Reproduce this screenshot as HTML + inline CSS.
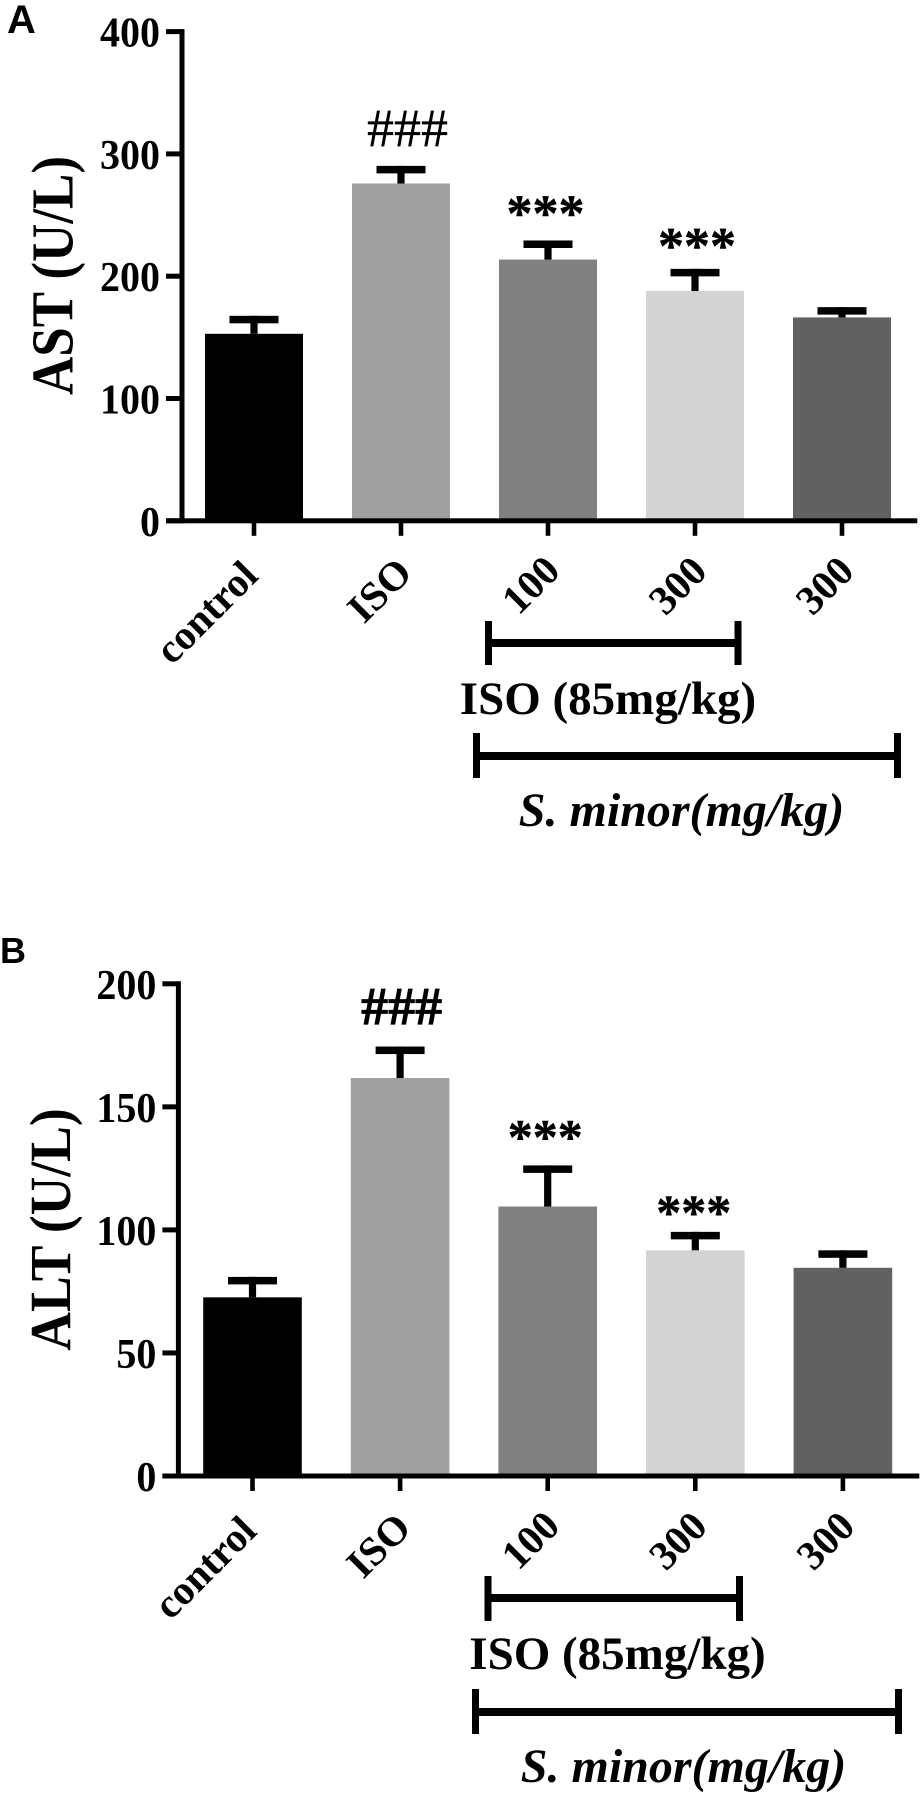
<!DOCTYPE html>
<html lang="en">
<head>
<meta charset="utf-8">
<title>AST and ALT bar charts</title>
<style>
html,body{margin:0;padding:0;background:#fff;width:922px;height:1796px;overflow:hidden}
svg{display:block;font-family:"Liberation Serif",serif}
.tick{font-size:40px;font-weight:bold;text-anchor:end}
.cat{font-size:41px;font-weight:bold;text-anchor:end}
.title{font-size:53px;font-weight:bold;text-anchor:middle}
.group{font-size:47px;font-weight:bold;text-anchor:middle}
.ital{font-size:48px;font-style:italic}
.panel{font-family:"Liberation Sans",sans-serif;font-weight:bold}
</style>
</head>
<body>
<svg id="figure" xmlns="http://www.w3.org/2000/svg" width="922" height="1796" viewBox="0 0 922 1796">
  <text class="panel" x="7" y="33" font-size="40">A</text>
  <text class="panel" x="0" y="963" font-size="36">B</text>

  <g id="panel-a"></g>
  <text class="title" transform="translate(72.500 275.500) rotate(-90) scale(1 1.110)">AST (U/L)</text>
  <g>
    <rect x="485" y="639" width="256.500" height="8" fill="#000"/>
    <rect x="485" y="621" width="7" height="44" fill="#000"/>
    <rect x="734.500" y="621" width="7" height="44" fill="#000"/>
  </g>
  <text class="group" x="608" y="714">ISO (85mg/kg)</text>
  <g>
    <rect x="473" y="752" width="428" height="8" fill="#000"/>
    <rect x="473" y="733" width="7" height="45" fill="#000"/>
    <rect x="894" y="733" width="7" height="45" fill="#000"/>
  </g>
  <text class="group ital" x="681.500" y="826">S. minor(mg/kg)</text>

  <g id="panel-b"></g>
  <text class="title" transform="translate(70 1229.500) rotate(-90) scale(1.010 1.100)">ALT (U/L)</text>
  <g>
    <rect x="484.500" y="1594" width="258.500" height="8" fill="#000"/>
    <rect x="484.500" y="1576" width="7" height="45" fill="#000"/>
    <rect x="736" y="1576" width="7" height="45" fill="#000"/>
  </g>
  <text class="group" x="617.500" y="1669">ISO (85mg/kg)</text>
  <g>
    <rect x="472" y="1708" width="430" height="8" fill="#000"/>
    <rect x="472" y="1689" width="7" height="45" fill="#000"/>
    <rect x="895" y="1689" width="7" height="45" fill="#000"/>
  </g>
  <text class="group ital" x="683.500" y="1782">S. minor(mg/kg)</text>
</svg>
<script>
// ---- chart data ----
var categories = ['control', 'ISO', '100', '300', '300'];
var barColors = ['#000000', '#a0a0a2', '#808080', '#d3d3d3', '#616161'];
var astValues = [152.9, 275.8, 213.6, 187.9, 166.3];
var astErrorTops = [167.6, 290.2, 229.2, 206, 174.7];
var astTicks = [0, 100, 200, 300, 400];
var astMarks = ['', '###', '***', '***', ''];
var altValues = [72.6, 161.7, 109.5, 91.7, 84.6];
var altErrorTops = [80.9, 174.5, 126.2, 99.2, 91.7];
var altTicks = [0, 50, 100, 150, 200];
var altMarks = ['', '###', '***', '***', ''];

var NS = 'http://www.w3.org/2000/svg';

function make(tag, attrs, parent, text) {
  var el = document.createElementNS(NS, tag);
  for (var k in attrs) el.setAttribute(k, attrs[k]);
  if (text !== undefined) el.textContent = text;
  parent.appendChild(el);
  return el;
}

function drawChart(root, o) {
  function yScale(v) { return o.y0 - (v / o.yMax) * (o.y0 - o.yTop); }
  function xScale(i) { return o.x0 + i * o.step; }

  o.values.forEach(function (v, i) {
    var cx = xScale(i);
    var bar = make('rect', { x: cx - o.barW / 2, y: yScale(v), width: o.barW, height: o.y0 - yScale(v), fill: barColors[i] }, root);
    
    

    var capY = yScale(o.errorTops[i]);
    var stem = make('rect', { x: cx - 3.6, y: capY, width: 7.2, height: yScale(v) - capY, fill: '#000' }, root);
    
    
    var cap = make('rect', { x: cx - 24.5, y: capY, width: 49, height: 7.5, fill: '#000' }, root);
    
    

    if (o.marks[i]) {
      var isHash = o.marks[i].charAt(0) === '#';
      var mark = make('text', {
        x: cx + o.markDx[i],
        y: capY - o.markGap[i],
        'font-size': isHash ? o.hashSize : o.starSize,
        'font-weight': isHash ? o.hashWeight : 'bold',
        'text-anchor': 'middle',
        stroke: '#000',
        'stroke-width': isHash ? o.hashStroke : 0.5
      }, root, o.marks[i]);
      
      
    }

    var xTick = make('rect', { x: cx - 2.3, y: o.y0, width: 4.6, height: 15, fill: '#000' }, root);
    
    

    var lx = cx + o.labelDx + o.labelNudgeX[i], ly = o.y0 + 59 + o.labelNudgeY[i];
    var label = make('text', { class: 'cat', transform: 'translate(' + lx + ' ' + ly + ') rotate(-45)' }, root, categories[i]);
    
    
  });

  o.ticks.forEach(function (t) {
    var y = yScale(t);
    var tick = make('rect', { x: o.axisX - 16, y: y - 2.5, width: 16, height: 5, fill: '#000' }, root);
    
    
    var lx = o.axisX - 22, ly = y + 15;
    var label = make('text', { class: 'tick', transform: 'translate(' + lx + ' ' + ly + ') scale(1 1.060)' }, root, String(t));
    
    
  });

  var yAxis = make('rect', { x: o.axisX - 2.5, y: o.yTop - 2.5, width: 5, height: o.y0 - o.yTop + 5, fill: '#000' }, root);
  
  
  var xAxis = make('rect', { x: o.axisX - 16, y: o.y0 - 2.5, width: o.axisEnd - o.axisX + 16, height: 5, fill: '#000' }, root);
  
  
}

var labelShiftX = [-3, 4, 5, 5, 5];
var labelShiftY = [-2, -5, -7, -6.5, -6.5];

drawChart(document.getElementById('panel-a'), {
  key: 'ast', values: astValues, errorTops: astErrorTops, ticks: astTicks, marks: astMarks, yMax: 400,
  y0: 520.8, yTop: 31.6, x0: 254, step: 147, barW: 98, axisX: 182, axisEnd: 917.3, labelDx: 9,
  labelNudgeX: labelShiftX, labelNudgeY: labelShiftY,
  hashSize: 54, hashWeight: 'normal', hashStroke: 0.3, starSize: 52,
  markDx: [0, 6.5, -2.5, 2, 0], markGap: [0, 20, 10, 6, 0]
});
drawChart(document.getElementById('panel-b'), {
  key: 'alt', values: altValues, errorTops: altErrorTops, ticks: altTicks, marks: altMarks, yMax: 200,
  y0: 1476, yTop: 983.8, x0: 252.5, step: 147.6, barW: 98.6, axisX: 178.4, axisEnd: 919.3, labelDx: 9,
  labelNudgeX: labelShiftX, labelNudgeY: labelShiftY,
  hashSize: 54, hashWeight: 'bold', hashStroke: 0.8, starSize: 50,
  markDx: [0, 1.5, -2.5, -1.5, 0], markGap: [0, 22, 12, 3, 0]
});
</script>
</body>
</html>
